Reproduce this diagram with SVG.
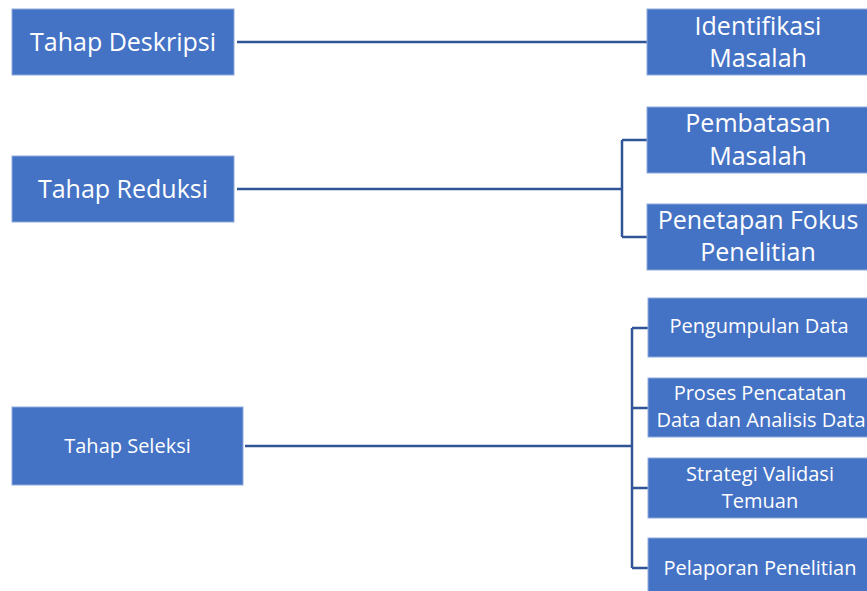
<svg xmlns="http://www.w3.org/2000/svg" width="867" height="591" viewBox="0 0 867 591">
<style>
.box{fill:#4472C4;stroke:#8FAADC;stroke-width:1}
.t{fill:#fff;font-family:"Open Sans","Noto Sans",sans-serif;text-anchor:middle}
.L{font-size:25px}
.S{font-size:20px}
.c{fill:none;stroke:#2F5597;stroke-width:2.5}
</style>
<rect width="867" height="591" fill="#fff"/>
<g id="connectors">
<path class="c" d="M237 42H647"/>
<path class="c" d="M237 189H622M622 140V237M622 140H647M622 237H647"/>
<path class="c" d="M245 446H632M632 328V568M632 328H648M632 408H648M632 488H648M632 568H648"/>
</g>
<g id="deskripsi"><rect class="box" x="12" y="9" width="222" height="66"/><text class="t L" x="123" y="51">Tahap Deskripsi</text></g>
<g id="reduksi"><rect class="box" x="12" y="156" width="222" height="66"/><text class="t L" x="123" y="198">Tahap Reduksi</text></g>
<g id="seleksi"><rect class="box" x="12" y="407" width="231" height="78"/><text class="t S" x="127.5" y="453">Tahap Seleksi</text></g>
<g id="identifikasi"><rect class="box" x="647" y="9" width="222" height="66"/><text class="t L" x="758" y="35">Identifikasi</text><text class="t L" x="758" y="67">Masalah</text></g>
<g id="pembatasan"><rect class="box" x="647" y="107" width="222" height="66"/><text class="t L" x="758" y="132">Pembatasan</text><text class="t L" x="758" y="165">Masalah</text></g>
<g id="penetapan"><rect class="box" x="647" y="204" width="222" height="66"/><text class="t L" x="758" y="229">Penetapan Fokus</text><text class="t L" x="758" y="261">Penelitian</text></g>
<g id="pengumpulan"><rect class="box" x="648" y="298" width="221" height="59"/><text class="t S" x="759" y="333">Pengumpulan Data</text></g>
<g id="proses"><rect class="box" x="648" y="378" width="221" height="59"/><text class="t S" x="760" y="400">Proses Pencatatan</text><text class="t S" x="761" y="427">Data dan Analisis Data</text></g>
<g id="strategi"><rect class="box" x="648" y="458" width="221" height="60"/><text class="t S" x="760" y="481">Strategi Validasi</text><text class="t S" x="760" y="508">Temuan</text></g>
<g id="pelaporan"><rect class="box" x="648" y="538" width="221" height="55"/><text class="t S" x="760" y="575">Pelaporan Penelitian</text></g>
</svg>
